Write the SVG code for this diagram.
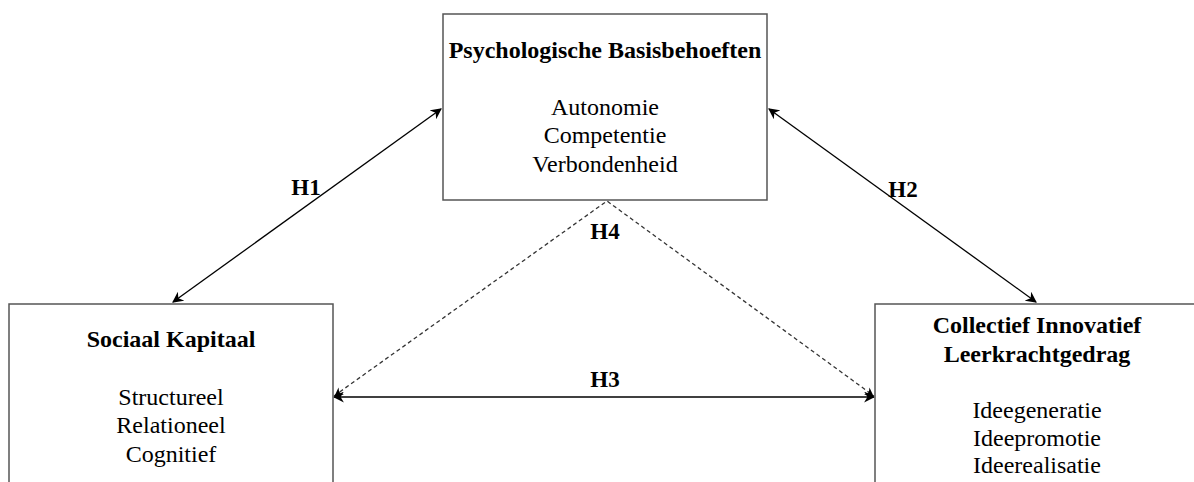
<svg xmlns="http://www.w3.org/2000/svg" width="1194" height="482" viewBox="0 0 1194 482">
<style>
.box{fill:#fff;stroke:#555;stroke-width:1.5}
.t{font-family:"Liberation Serif","Times New Roman",serif;fill:#000;text-anchor:middle}
.b{font-weight:bold;font-size:24px}
.h{font-weight:bold;font-size:23px}
.r{font-size:24px}
.c{stroke:#000;stroke-width:1.3;fill:none}
.d{stroke:#333;stroke-width:1.3;fill:none;stroke-dasharray:4,3}
</style>
<defs>
<marker id="ah" viewBox="0 0 10 10" refX="9" refY="5" markerWidth="11" markerHeight="11" markerUnits="userSpaceOnUse" orient="auto-start-reverse">
<path d="M0,0 L10,5 L0,10 L3,5 Z" fill="#000"/>
</marker>
<marker id="ahd" viewBox="0 0 10 10" refX="9" refY="5" markerWidth="9" markerHeight="9" markerUnits="userSpaceOnUse" orient="auto-start-reverse">
<path d="M0,0 L10,5 L0,10 L3,5 Z" fill="#000"/>
</marker>
</defs>
<rect width="1194" height="482" fill="#fff"/>
<g id="connectors">
<line class="c" x1="441" y1="109" x2="173" y2="302" marker-start="url(#ah)" marker-end="url(#ah)"/>
<line class="c" x1="769" y1="109" x2="1036" y2="302" marker-start="url(#ah)" marker-end="url(#ah)"/>
<line class="c" x1="334" y1="397" x2="874" y2="397" marker-start="url(#ah)" marker-end="url(#ah)"/>
<polyline class="d" points="334,396 607,201 874,396"/>
<line class="d" x1="340" y1="392" x2="335" y2="396" stroke-dasharray="none" marker-end="url(#ahd)"/>
<line class="d" x1="868" y1="392" x2="873" y2="396" stroke-dasharray="none" marker-end="url(#ahd)"/>
<text class="t h" x="306" y="195">H1</text>
<text class="t h" x="903" y="197">H2</text>
<text class="t h" x="605" y="387">H3</text>
<text class="t h" x="605" y="239">H4</text>
</g>
<g id="psych">
<rect class="box" x="443" y="14" width="324" height="186"/>
<text class="t b" x="605" y="58">Psychologische Basisbehoeften</text>
<text class="t r" x="605" y="115">Autonomie</text>
<text class="t r" x="605" y="143">Competentie</text>
<text class="t r" x="605" y="172">Verbondenheid</text>
</g>
<g id="sociaal">
<rect class="box" x="9" y="304" width="324" height="200"/>
<text class="t b" x="171" y="347">Sociaal Kapitaal</text>
<text class="t r" x="171" y="405">Structureel</text>
<text class="t r" x="171" y="433">Relationeel</text>
<text class="t r" x="171" y="462">Cognitief</text>
</g>
<g id="collectief">
<rect class="box" x="875" y="304" width="324" height="200"/>
<text class="t b" x="1037" y="333">Collectief Innovatief</text>
<text class="t b" x="1037" y="362">Leerkrachtgedrag</text>
<text class="t r" x="1037" y="418">Ideegeneratie</text>
<text class="t r" x="1037" y="446">Ideepromotie</text>
<text class="t r" x="1037" y="473">Ideerealisatie</text>
</g>
</svg>
